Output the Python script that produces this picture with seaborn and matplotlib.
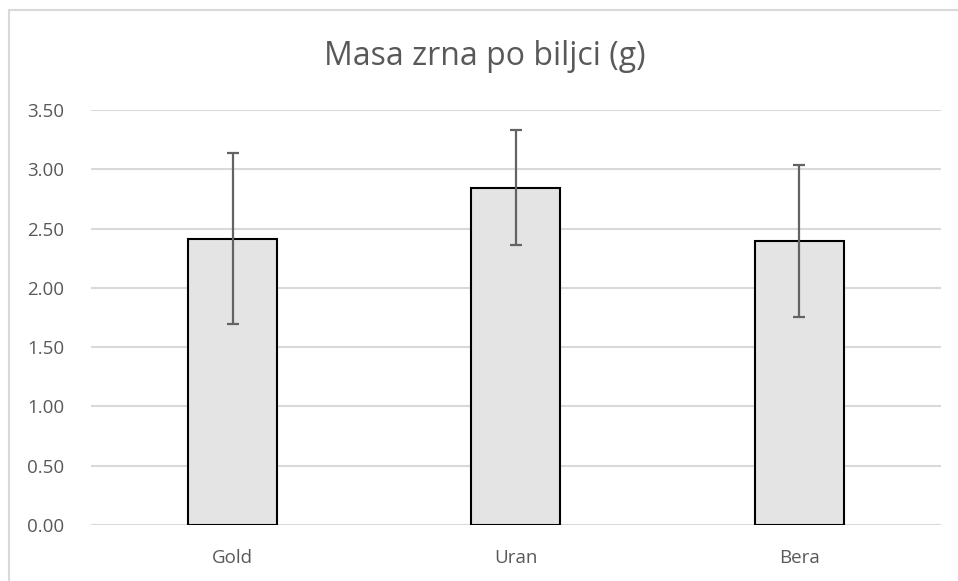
import pandas as pd
import matplotlib.pyplot as plt
import seaborn as sns
from matplotlib.lines import Line2D

sns.set_style("white")
plt.rcParams['font.family'] = ['Open Sans', 'DejaVu Sans']

# data
varieties = ["Gold", "Uran", "Bera"]
mass = [2.415, 2.845, 2.395]
err = [0.72, 0.485, 0.64]
yticks = [0.0, 0.5, 1.0, 1.5, 2.0, 2.5, 3.0, 3.5]

df = pd.DataFrame({"Variety": varieties, "Mass": mass, "Err": err})

fig = plt.figure(figsize=(9.58, 5.81), dpi=100)
ax = fig.add_axes([0.095, 0.0964, 0.887, 0.7143])

sns.barplot(data=df, x="Variety", y="Mass", color="#e4e4e4", edgecolor="black",
            linewidth=1.5, width=0.315, saturation=1, errorbar=None, ax=ax, zorder=3)
ax.errorbar(x=range(len(df)), y=df["Mass"], yerr=df["Err"], fmt="none",
            ecolor="#636363", elinewidth=1.6, capsize=4.2, capthick=1.6, zorder=4)

ax.set_xlim(-0.5, 2.5)
ax.set_ylim(0, 3.5)
ax.set_yticks(yticks)
ax.set_yticklabels([f"{t:.2f}" for t in yticks])
ax.grid(axis="y", color="#d9d9d9", linewidth=1.5, zorder=0)
ax.set_axisbelow(True)
for s in ax.spines.values():
    s.set_visible(False)
ax.tick_params(axis="both", length=0, labelsize=13.5, colors="#595959")
ax.tick_params(axis="y", pad=19)
ax.tick_params(axis="x", pad=17)
ax.set_xlabel("")
ax.set_ylabel("")

# title is centred on the whole chart area, not the plot area
fig.text(0.506, 0.902, "Masa zrna po biljci (g)", fontsize=23, color="#595959",
         ha="center", va="center")

# chart border (only top and left edges show in the original)
fig.lines.append(Line2D([0.0094, 1.0], [0.983, 0.983], transform=fig.transFigure,
                        color="#d9d9d9", linewidth=1.5))
fig.lines.append(Line2D([0.0094, 0.0094], [0.0, 0.983], transform=fig.transFigure,
                        color="#d9d9d9", linewidth=1.5))

plt.savefig("out.png", dpi=100)
